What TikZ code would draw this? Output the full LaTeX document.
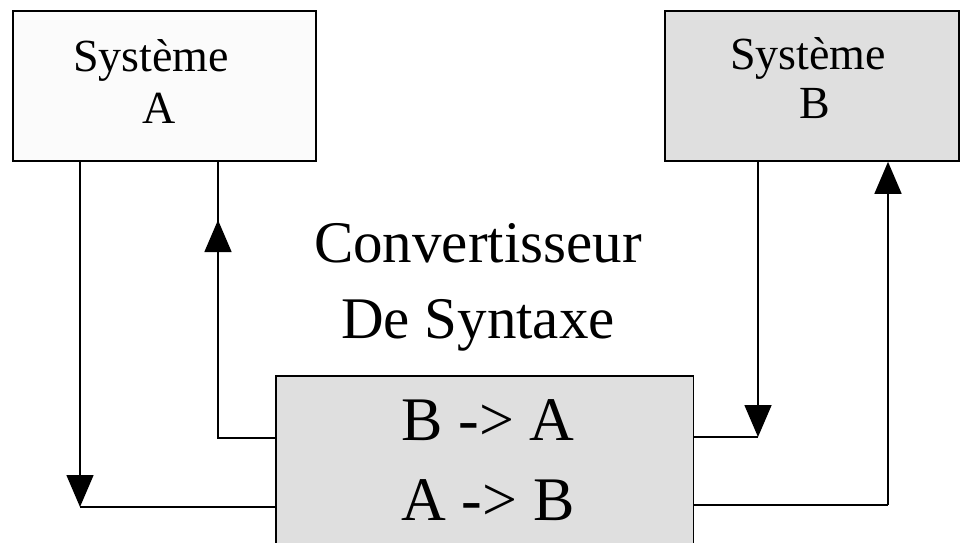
\documentclass[tikz,border=0pt]{standalone}
\usepackage{fontspec}
\setmainfont{Liberation Serif}
\usetikzlibrary{arrows.meta}
\definecolor{boxgray}{HTML}{DFDFDF}
\definecolor{paleface}{HTML}{FBFBFB}
\begin{document}
\begin{tikzpicture}[x=1pt,y=-1pt,
  sysbox/.style={draw, line width=1.8pt, inner sep=0pt, anchor=north west},
  link/.style={line width=1.6pt},
  head/.style={-{Triangle[length=32pt,width=27pt]}},
  small/.style={font=\fontsize{46}{50}\selectfont, anchor=base, inner sep=0pt},
  title/.style={font=\fontsize{59}{64}\selectfont, anchor=base, inner sep=0pt},
  big/.style={font=\fontsize{62}{66}\selectfont, anchor=base, inner sep=0pt}]
\useasboundingbox (0,0) rectangle (961,543);
\fill[white] (0,0) rectangle (961,543);

% the two systems
\node[sysbox, fill=paleface, minimum width=303pt, minimum height=150pt] (sysA) at (12,10) {};
\node[sysbox, fill=boxgray, minimum width=294pt, minimum height=150pt] (sysB) at (664,10) {};
\node[small] (sa1) at (151,71) {Système};
\node[small] (sa2) at (159,123) {A};
\node[small] (sb1) at (808,70) {Système};
\node[small] (sb2) at (815,118) {B};

% converter box, open at the bottom edge
\node[fill=boxgray, inner sep=0pt, anchor=north west, minimum width=417pt, minimum height=167pt] (conv) at (276,376) {};
\draw[line width=1.8pt] (conv.south west) -- (conv.north west) -- (conv.north east) -- (conv.south east);
\node[big] (ba) at (488,440) {B -> A};
\node[big] (ab) at (488,520) {A -> B};

\node[title] (t1) at (478,262) {Convertisseur};
\node[title] (t2) at (478,338) {De Syntaxe};

% connectors
\coordinate (c1) at (80,507);
\draw[link, head] (sysA.south -| c1) -- (c1);
\draw[link] (c1) -- (c1 -| conv.west);

\coordinate (c2) at (218,438);
\coordinate (h2) at (218,220);
\draw[link] (c2 -| conv.west) -- (c2) -- (sysA.south -| c2);
\draw[link, head] (c2) -- (h2);

\coordinate (c3) at (758,437);
\draw[link, head] (sysB.south -| c3) -- (c3);
\draw[link] (c3) -- (c3 -| conv.east);

\coordinate (c4) at (888,505);
\draw[link] (c4 -| conv.east) -- (c4);
\draw[link, head] (c4) -- (sysB.south -| c4);
\end{tikzpicture}
\end{document}
